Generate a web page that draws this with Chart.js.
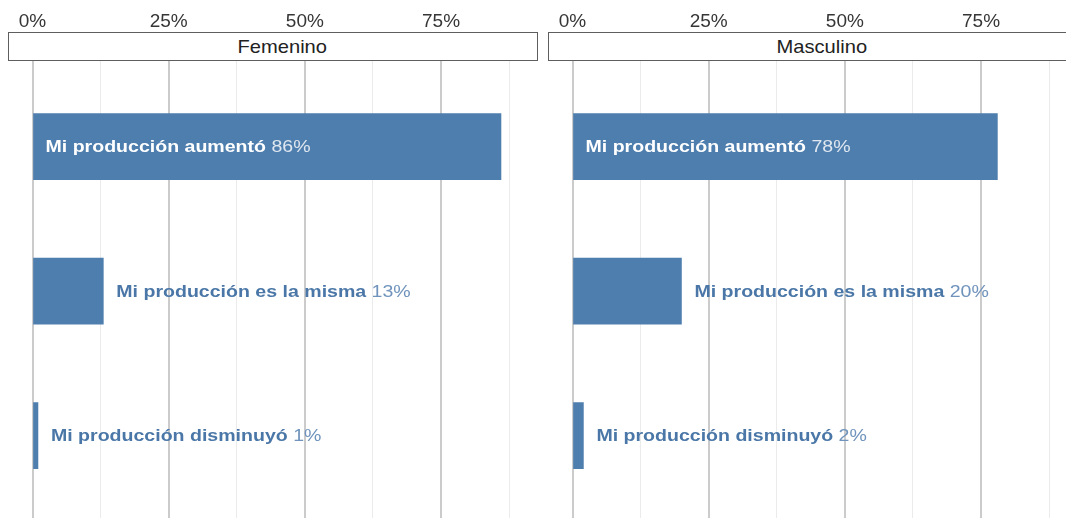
<!DOCTYPE html>
<html>
<head>
<meta charset="utf-8">
<script src="https://cdn.jsdelivr.net/npm/chart.js@4/dist/chart.umd.min.js"></script>
<style>
  html, body { margin: 0; padding: 0; background: #fff; }
  body { width: 1066px; height: 518px; overflow: hidden; position: relative; font-family: "Liberation Sans", Arial, sans-serif; }
  .panel { position: absolute; top: 0; width: 530px; height: 518px; }
  .panel canvas { position: absolute; left: 0; top: 0; }
  .strip {
    position: absolute; top: 32px; left: 0; width: 528px; height: 27px;
    border: 1px solid #5e5e5e; background: #fff;
    font-size: 19px; color: #222; text-align: center; line-height: 27px;
  }
  .strip span { display: inline-block; position: relative; left: 9px; transform: scaleX(1.06); }
</style>
</head>
<body>
<div class="panel" style="left:8px"><canvas id="cF" width="530" height="518"></canvas><div class="strip"><span>Femenino</span></div></div>
<div class="panel" style="left:548px"><canvas id="cM" width="530" height="518"></canvas><div class="strip"><span>Masculino</span></div></div>
<script>
// Answer categories and shares (%) per sex
const categories = ['Mi producción aumentó', 'Mi producción es la misma', 'Mi producción disminuyó'];
const femenino = [86, 13, 1];
const masculino = [78, 20, 2];

// Axis ticks: labelled majors every 25 %, unlabelled minors in between
const tickValues = [0, 12.5, 25, 37.5, 50, 62.5, 75, 87.5];
const tickLabels = { 0: '0%', 25: '25%', 50: '50%', 75: '75%' };

const BAR = '#4e7eae';
const FONT = '"Liberation Sans", Arial, sans-serif';
const STRETCH = 1.15;   // labels are set a little wide

// Writes "category value%" inside the bar when it fits, otherwise right after it
const barLabels = {
  id: 'barLabels',
  afterDatasetsDraw(chart) {
    const ctx = chart.ctx;
    const meta = chart.getDatasetMeta(0);
    const xs = chart.scales.x;
    const vals = chart.data.datasets[0].data;
    ctx.save();
    ctx.textBaseline = 'middle';
    ctx.textAlign = 'left';
    meta.data.forEach((bar, i) => {
      const name = categories[i] + ' ';
      const val = vals[i].x + '%';
      ctx.font = 'bold 17px ' + FONT;
      const w1 = ctx.measureText(name).width;
      ctx.font = '17px ' + FONT;
      const w2 = ctx.measureText(val).width;
      const base = xs.getPixelForValue(0);
      const inside = (bar.x - base) > (w1 + w2) * STRETCH + 30;
      const x0 = inside ? base + 13 : bar.x + 13;
      ctx.save();
      ctx.translate(x0, bar.y + 1);
      ctx.scale(STRETCH, 1);
      ctx.font = 'bold 17px ' + FONT;
      ctx.fillStyle = inside ? '#ffffff' : '#4a77a7';
      ctx.fillText(name, 0, 0);
      ctx.font = '17px ' + FONT;
      ctx.fillStyle = inside ? '#dfe7f0' : '#6f93bc';
      ctx.fillText(val, w1, 0);
      ctx.restore();
    });
    ctx.restore();
  }
};

function makeChart(id, values) {
  return new Chart(document.getElementById(id), {
    type: 'bar',
    data: {
      datasets: [{
        data: values.map((v, i) => ({ x: v, y: i })),
        backgroundColor: BAR,
        borderWidth: 0,
        barThickness: 66
      }]
    },
    options: {
      indexAxis: 'y',
      responsive: false,
      animation: false,
      events: [],
      layout: { padding: { left: 24.5, top: 0, right: 0, bottom: 0 } },
      plugins: { legend: { display: false }, tooltip: { enabled: false } },
      scales: {
        x: {
          type: 'linear',
          position: 'top',
          min: 0,
          max: 92.8,
          afterBuildTicks(scale) { scale.ticks = tickValues.map(v => ({ value: v })); },
          afterFit(scale) {
            scale.height = 60;
            scale.paddingLeft = 0;
            scale.paddingRight = 0;
          },
          ticks: {
            padding: 27,
            maxRotation: 0,
            autoSkip: false,
            color: '#363636',
            font: { family: FONT, size: 19 },
            callback: v => tickLabels[v] || ''
          },
          grid: {
            drawTicks: false,
            color: c => (c.tick && c.tick.value % 25 === 0) ? '#cbcbcb' : '#ebebeb',
            lineWidth: c => (c.tick && c.tick.value % 25 === 0) ? 2 : 1
          },
          border: { display: false }
        },
        y: {
          type: 'linear',
          reverse: true,
          offset: false,
          min: -0.6,
          max: 2.57,
          display: false,
          grid: { offset: false }
        }
      }
    },
    plugins: [barLabels]
  });
}

makeChart('cF', femenino);
makeChart('cM', masculino);
</script>
</body>
</html>
